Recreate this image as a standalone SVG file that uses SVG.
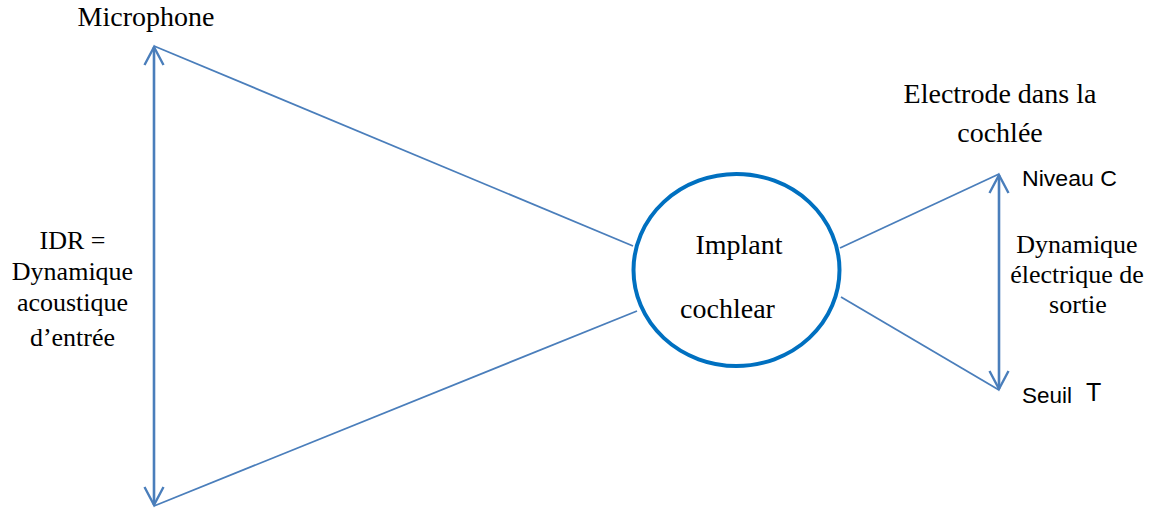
<svg xmlns="http://www.w3.org/2000/svg" width="1153" height="510" viewBox="0 0 1153 510">
<style>
.serif{font-family:"Liberation Serif","Times New Roman",serif;fill:#000}
.sans{font-family:"Liberation Sans",Arial,sans-serif;fill:#000}
.ln{stroke:#4A7EBB;stroke-width:1.8;fill:none}
.arr{stroke:#4A7EBB;stroke-width:2.6;fill:none}
</style>
<defs>
<marker id="vh" markerUnits="userSpaceOnUse" viewBox="0 0 22 22" refX="19" refY="11" markerWidth="22" markerHeight="22" orient="auto-start-reverse" overflow="visible">
<path d="M1,1.5 L19,11 L1,20.5" fill="none" stroke="#4A7EBB" stroke-width="2.4" stroke-linejoin="miter"/>
</marker>
</defs>
<rect width="1153" height="510" fill="#fff"/>
<g id="connectors">
<line class="ln" x1="154" y1="46" x2="633" y2="246"/>
<line class="ln" x1="154" y1="506" x2="637" y2="311"/>
<line class="ln" x1="840" y1="248" x2="999" y2="174"/>
<line class="ln" x1="841" y1="297" x2="999" y2="390"/>
<line class="arr" x1="154" y1="47" x2="154" y2="505" marker-start="url(#vh)" marker-end="url(#vh)"/>
<line class="arr" x1="999" y1="175" x2="999" y2="389" marker-start="url(#vh)" marker-end="url(#vh)"/>
</g>
<g id="microphone">
<text class="serif" x="146" y="26" font-size="28" text-anchor="middle">Microphone</text>
</g>
<g id="idr">
<text class="serif" x="72.5" y="249" font-size="26" text-anchor="middle">IDR =</text>
<text class="serif" x="72.5" y="280" font-size="26" text-anchor="middle">Dynamique</text>
<text class="serif" x="72.5" y="311" font-size="26" text-anchor="middle">acoustique</text>
<text class="serif" x="72.5" y="346" font-size="26" text-anchor="middle">d’entrée</text>
</g>
<g id="implant">
<ellipse cx="736.5" cy="270" rx="103" ry="96" fill="#fff" stroke="#0070C0" stroke-width="4"/>
<text class="serif" x="739" y="254" font-size="28" text-anchor="middle">Implant</text>
<text class="serif" x="727.5" y="318" font-size="28" text-anchor="middle">cochlear</text>
</g>
<g id="electrode">
<text class="serif" x="1000" y="103" font-size="28" text-anchor="middle">Electrode dans la</text>
<text class="serif" x="1000" y="142" font-size="28" text-anchor="middle">cochlée</text>
</g>
<g id="niveau-c">
<text class="sans" x="1022" y="186" font-size="22.5" textLength="95" lengthAdjust="spacingAndGlyphs">Niveau C</text>
</g>
<g id="dynamique-sortie">
<text class="serif" x="1077" y="253" font-size="26" text-anchor="middle">Dynamique</text>
<text class="serif" x="1077" y="283" font-size="26" text-anchor="middle">électrique de</text>
<text class="serif" x="1078" y="313" font-size="26" text-anchor="middle">sortie</text>
</g>
<g id="seuil-t">
<text class="sans" x="1022" y="403" font-size="22.5" textLength="50" lengthAdjust="spacingAndGlyphs">Seuil</text>
<text class="sans" x="1086" y="401" font-size="25">T</text>
</g>
</svg>
